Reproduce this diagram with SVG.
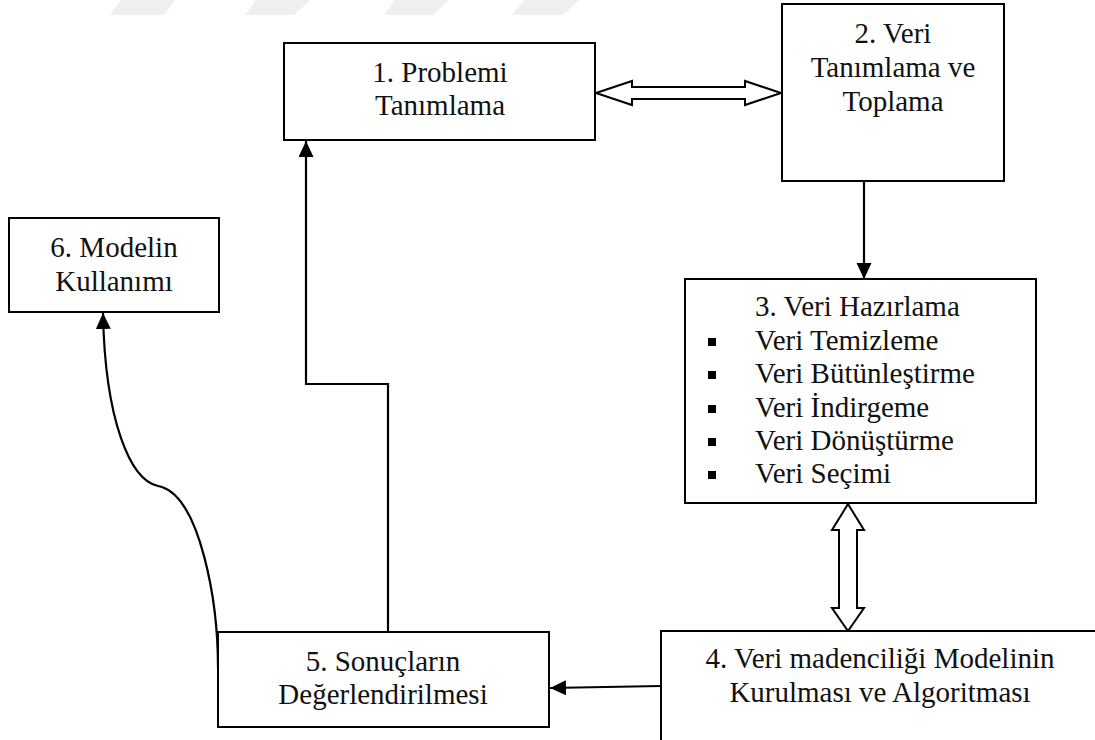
<svg xmlns="http://www.w3.org/2000/svg" width="1095" height="740" viewBox="0 0 1095 740">
<style>
.box{fill:#fff;stroke:#000;stroke-width:2}
.t{font-family:"Liberation Serif","Times New Roman",serif;font-size:29px;fill:#111}
.c{text-anchor:middle}
.ln{fill:none;stroke:#000;stroke-width:2.2}
.dbl{fill:#fff;stroke:#000;stroke-width:2}
.wm{fill:#efefef}
</style>
<defs>
<marker id="ah" markerUnits="userSpaceOnUse" markerWidth="18" markerHeight="16" refX="16" refY="7.5" orient="auto">
<path d="M0,0 L16,7.5 L0,15 z" fill="#000"/>
</marker>
</defs>
<rect width="1095" height="740" fill="#fff"/>
<g id="watermark">
<polygon class="wm" points="121,0 175,0 164,15 110,15"/>
<polygon class="wm" points="256,0 310,0 294,15 245,15"/>
<polygon class="wm" points="395,0 449,0 433,15 384,15"/>
<polygon class="wm" points="525,0 579,0 563,15 511,15"/>
</g>
<g id="connectors">
<path class="dbl" d="M596,93 L632,81 L632,87 L745,87 L745,81 L781,93 L745,105 L745,99 L632,99 L632,105 Z"/>
<path class="dbl" d="M848,504 L864,530 L857,530 L857,608 L864,608 L848,631 L832,608 L839,608 L839,530 L832,530 Z"/>
<path class="ln" d="M864,182 L864,279" marker-end="url(#ah)"/>
<path class="ln" d="M388,632 L388,384 L306,384 L306,141" marker-end="url(#ah)"/>
<path class="ln" d="M661,686 L550,688" marker-end="url(#ah)"/>
<path class="ln" d="M218,668 C218,600 200,500 162,487 L158,486 C130,480 105,420 103,313" marker-end="url(#ah)"/>
</g>
<g id="n1">
<rect class="box" x="284" y="43" width="311" height="97"/>
<text class="t c" x="440" y="82">1. Problemi</text>
<text class="t c" x="440" y="115">Tanımlama</text>
</g>
<g id="n2">
<rect class="box" x="782" y="4" width="222" height="177"/>
<text class="t c" x="893" y="43">2. Veri</text>
<text class="t c" x="893" y="77">Tanımlama ve</text>
<text class="t c" x="893" y="111">Toplama</text>
</g>
<g id="n3">
<rect class="box" x="685" y="279" width="351" height="224"/>
<text class="t" x="755" y="316">3. Veri Hazırlama</text>
<rect x="708" y="338" width="8" height="8" fill="#000"/>
<text class="t" x="755" y="350">Veri Temizleme</text>
<rect x="708" y="371" width="8" height="8" fill="#000"/>
<text class="t" x="755" y="383">Veri Bütünleştirme</text>
<rect x="708" y="405" width="8" height="8" fill="#000"/>
<text class="t" x="755" y="417">Veri İndirgeme</text>
<rect x="708" y="438" width="8" height="8" fill="#000"/>
<text class="t" x="755" y="450">Veri Dönüştürme</text>
<rect x="708" y="471" width="8" height="8" fill="#000"/>
<text class="t" x="755" y="483">Veri Seçimi</text>
</g>
<g id="n4">
<rect class="box" x="661" y="631" width="450" height="120"/>
<text class="t c" x="880" y="668">4. Veri madenciliği Modelinin</text>
<text class="t c" x="880" y="702">Kurulması ve Algoritması</text>
</g>
<g id="n5">
<rect class="box" x="218" y="632" width="331" height="95"/>
<text class="t c" x="383" y="671">5. Sonuçların</text>
<text class="t c" x="383" y="704">Değerlendirilmesi</text>
</g>
<g id="n6">
<rect class="box" x="9" y="218" width="210" height="94"/>
<text class="t c" x="114" y="257">6. Modelin</text>
<text class="t c" x="114" y="291">Kullanımı</text>
</g>
</svg>
